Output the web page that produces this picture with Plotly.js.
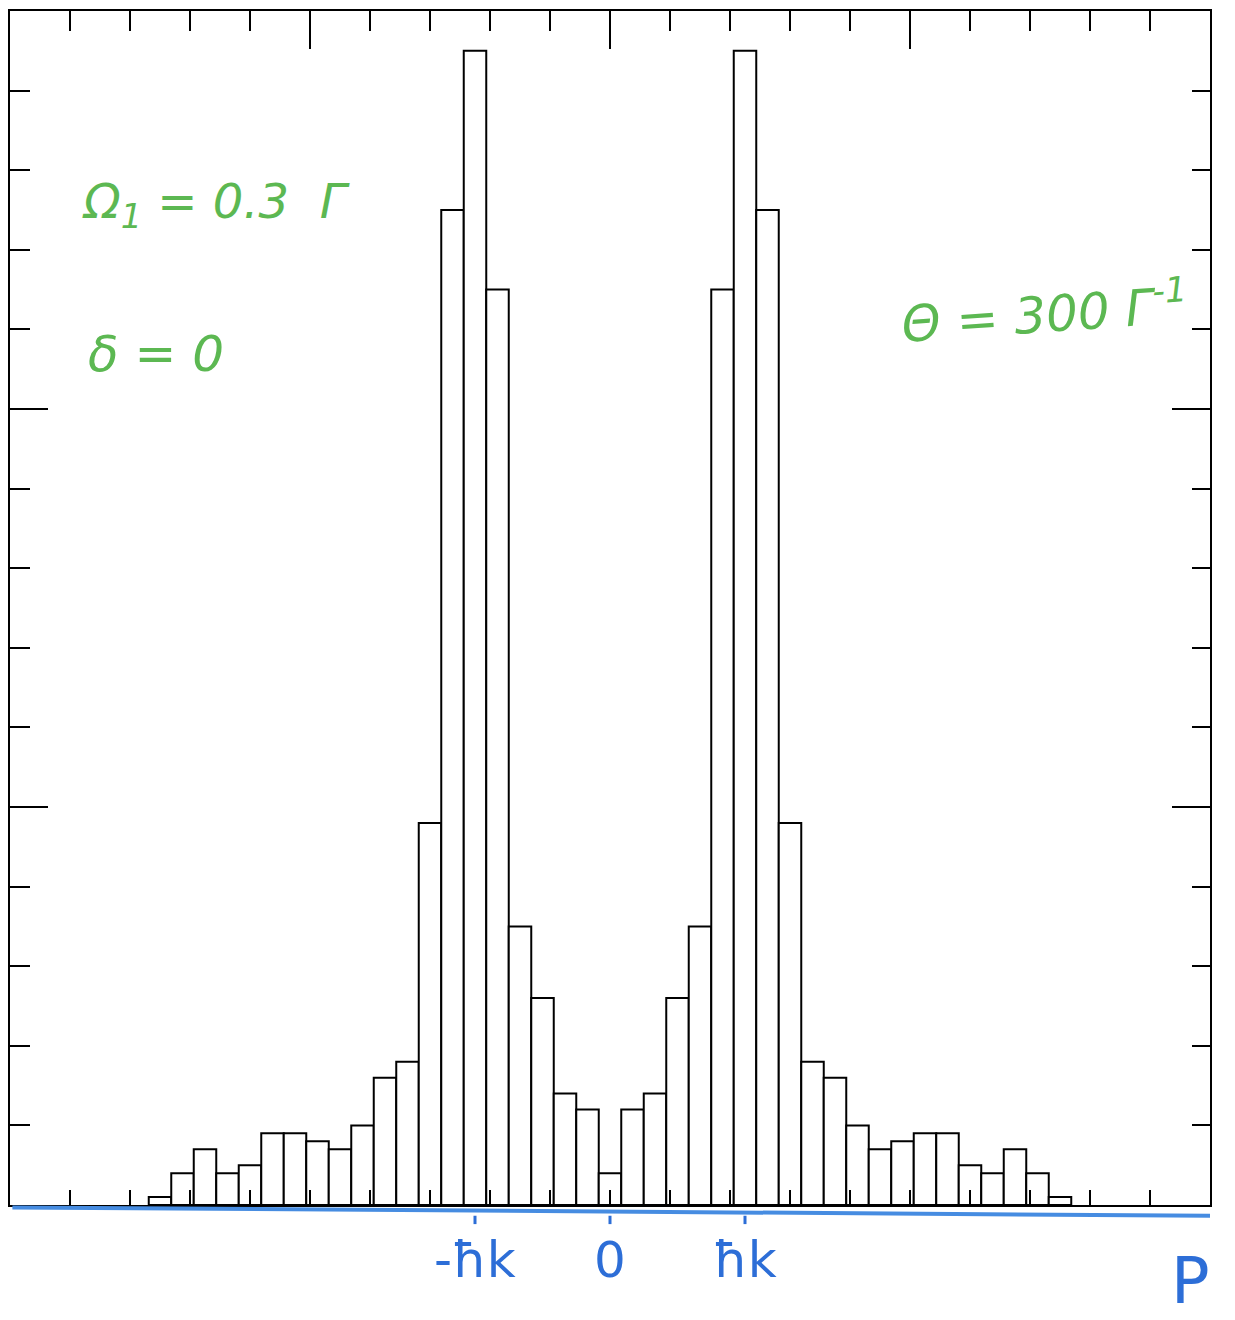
<!DOCTYPE html>
<html>
<head>
<meta charset="utf-8">
<script src="https://cdn.plot.ly/plotly-3.0.1.min.js"></script>
<style>
  html, body { margin: 0; padding: 0; background: #ffffff; }
  #chart { width: 1235px; height: 1320px; }
</style>
</head>
<body>
<div id="chart"></div>
<script>
// Bin index along the momentum axis (bin width = ħk / 6)
const binIndex = [-20,-19,-18,-17,-16,-15,-14,-13,-12,-11,-10,-9,-8,-7,-6,-5,-4,-3,-2,-1,
                  0,1,2,3,4,5,6,7,8,9,10,11,12,13,14,15,16,17,18,19,20];
// Counts per bin (one minor y tick = 10 counts)
const counts = [1,4,7,4,5,9,9,8,7,10,16,18,48,125,145,115,35,26,14,12,
                4,12,14,26,35,115,145,125,48,18,16,10,7,8,9,9,5,4,7,4,1];
// Momentum axis labels (hand-written, in bin units)
const momentumLabelPos = [-6, 0, 6];
const momentumLabels = ['-ħk', '0', 'ħk'];
// Parameter annotations
const paramOmega = 'Ω<sub>1</sub> = 0.3  Γ';
const paramDelta = 'δ = 0';
const paramTheta = 'Θ = 300 Γ<sup>-1</sup>';
const axisName = 'P';

const halfRange = 600 / 22.5;   // axis half-width in bin units
const green = 'rgb(92,184,82)';
const blue = 'rgb(45,110,215)';

const trace = {
  type: 'bar',
  x: binIndex,
  y: counts,
  width: 1,
  marker: { color: '#ffffff', line: { color: '#000000', width: 2 } },
  hoverinfo: 'x+y',
  showlegend: false
};
// same histogram attached to the top/right (tick-carrying) axes, drawn invisibly
const traceFrame = {
  type: 'bar',
  x: binIndex,
  y: counts,
  width: 1,
  xaxis: 'x2',
  yaxis: 'y2',
  opacity: 0,
  marker: { color: 'rgba(0,0,0,0)', line: { width: 0 } },
  hoverinfo: 'skip',
  showlegend: false
};

const annotations = [];
momentumLabelPos.forEach((p, i) => {
  annotations.push({
    xref: 'x', yref: 'paper', x: p, y: -0.046,
    text: momentumLabels[i], showarrow: false,
    font: { family: 'DejaVu Sans', size: 50, color: blue },
    xanchor: 'center', yanchor: 'middle'
  });
});
annotations.push({
  xref: 'paper', yref: 'paper', x: 0.984, y: -0.064,
  text: axisName, showarrow: false,
  font: { family: 'DejaVu Sans', size: 64, color: blue },
  xanchor: 'center', yanchor: 'middle'
});
annotations.push({
  xref: 'paper', yref: 'paper', x: 0.172, y: 0.838,
  text: '<i>' + paramOmega + '</i>', showarrow: false,
  font: { family: 'DejaVu Sans', size: 48, color: green },
  xanchor: 'center', yanchor: 'middle'
});
annotations.push({
  xref: 'paper', yref: 'paper', x: 0.122, y: 0.713,
  text: '<i>' + paramDelta + '</i>', showarrow: false,
  font: { family: 'DejaVu Sans', size: 50, color: green },
  xanchor: 'center', yanchor: 'middle'
});
annotations.push({
  xref: 'paper', yref: 'paper', x: 0.862, y: 0.748,
  text: '<i>' + paramTheta + '</i>', showarrow: false, textangle: -4,
  font: { family: 'DejaVu Sans', size: 50, color: green },
  xanchor: 'center', yanchor: 'middle'
});

const shapes = [
  // blue hand-drawn momentum axis below the frame
  { type: 'line', xref: 'paper', yref: 'paper', x0: 0.002, y0: -0.002, x1: 1.0, y1: -0.009,
    line: { color: 'rgb(70,140,225)', width: 4 } }
];
momentumLabelPos.forEach(p => {
  shapes.push({ type: 'line', xref: 'x', yref: 'paper', x0: p, x1: p, y0: -0.009, y1: -0.016,
    line: { color: blue, width: 3 } });
});

const tickStyle = { ticks: 'inside', tickwidth: 2, tickcolor: '#000000' };
const minorY = { ticks: 'inside', ticklen: 20, tickwidth: 2, tickcolor: '#000000', dtick: 10, showgrid: false };

const layout = {
  width: 1235, height: 1320,
  margin: { l: 10, r: 25, t: 11, b: 115, pad: 0 },
  paper_bgcolor: '#ffffff', plot_bgcolor: '#ffffff',
  bargap: 0,
  barmode: 'overlay',
  showlegend: false,
  xaxis: Object.assign({
    range: [-halfRange, halfRange],
    showgrid: false, zeroline: false,
    showline: true, linecolor: '#000000', linewidth: 2,
    ticklen: 15, tick0: 0, dtick: 60 / 22.5,
    showticklabels: false, fixedrange: true
  }, tickStyle),
  xaxis2: Object.assign({
    overlaying: 'x', anchor: 'y2', side: 'top',
    range: [-halfRange, halfRange],
    showgrid: false, zeroline: false,
    showline: true, linecolor: '#000000', linewidth: 2,
    ticklen: 38, tick0: 0, dtick: 300 / 22.5,
    minor: { ticks: 'inside', ticklen: 20, tickwidth: 2, tickcolor: '#000000', dtick: 60 / 22.5, showgrid: false },
    showticklabels: false, fixedrange: true
  }, tickStyle),
  yaxis: Object.assign({
    range: [0, 150],
    showgrid: false, zeroline: false,
    showline: true, linecolor: '#000000', linewidth: 2,
    ticklen: 38, tick0: 0, dtick: 50,
    minor: minorY,
    showticklabels: false, fixedrange: true
  }, tickStyle),
  yaxis2: Object.assign({
    overlaying: 'y', anchor: 'x2', side: 'right',
    range: [0, 150],
    showgrid: false, zeroline: false,
    showline: true, linecolor: '#000000', linewidth: 2,
    ticklen: 38, tick0: 0, dtick: 50,
    minor: Object.assign({}, minorY, { ticklen: 18 }),
    showticklabels: false, fixedrange: true
  }, tickStyle),
  annotations: annotations,
  shapes: shapes
};

Plotly.newPlot('chart', [traceFrame, trace], layout, { displayModeBar: false, staticPlot: true });
</script>
</body>
</html>
